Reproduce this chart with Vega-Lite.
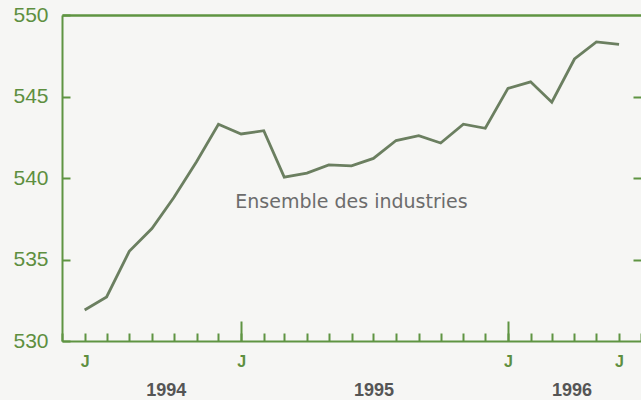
{
  "$schema": "https://vega.github.io/schema/vega-lite/v6.json",
  "width": 579,
  "height": 326,
  "autosize": {"type": "none"},
  "padding": {"left": 62, "top": 15, "right": 0, "bottom": 59},
  "background": "#f6f6f4",
  "config": {
    "view": {"stroke": null},
    "font": "Liberation Sans",
    "axis": {"grid": false, "domainColor": "#5f9442", "tickColor": "#5f9442", "domainWidth": 2, "tickWidth": 2, "labelColor": "#5e8f40", "labelFont": "Liberation Sans"}
  },
  "data": {
    "values": [
      {"date": "1994-06-01", "value": 531.9},
      {"date": "1994-07-01", "value": 532.7},
      {"date": "1994-08-01", "value": 535.5},
      {"date": "1994-09-01", "value": 536.9},
      {"date": "1994-10-01", "value": 538.8},
      {"date": "1994-11-01", "value": 541.0},
      {"date": "1994-12-01", "value": 543.3},
      {"date": "1995-01-01", "value": 542.7},
      {"date": "1995-02-01", "value": 542.9},
      {"date": "1995-03-01", "value": 540.05},
      {"date": "1995-04-01", "value": 540.3},
      {"date": "1995-05-01", "value": 540.8},
      {"date": "1995-06-01", "value": 540.75},
      {"date": "1995-07-01", "value": 541.2},
      {"date": "1995-08-01", "value": 542.3},
      {"date": "1995-09-01", "value": 542.6},
      {"date": "1995-10-01", "value": 542.15},
      {"date": "1995-11-01", "value": 543.3},
      {"date": "1995-12-01", "value": 543.05},
      {"date": "1996-01-01", "value": 545.5},
      {"date": "1996-02-01", "value": 545.9},
      {"date": "1996-03-01", "value": 544.65},
      {"date": "1996-04-01", "value": 547.3},
      {"date": "1996-05-01", "value": 548.35},
      {"date": "1996-06-01", "value": 548.2}
    ]
  },
  "resolve": {
    "scale": {"x": "independent", "y": "independent"},
    "axis": {"x": "independent", "y": "independent"}
  },
  "layer": [
    {
      "mark": {"type": "line", "color": "#6b7f60", "strokeWidth": 2.8},
      "encoding": {
        "x": {
          "field": "date", "type": "temporal",
          "scale": {"type": "utc", "domain": [{"year": 1994, "month": 5, "date": 1, "utc": true}, {"year": 1996, "month": 7, "date": 1, "utc": true}]},
          "axis": {"orient": "bottom", "title": null, "tickCount": {"interval": "month", "step": 1}, "tickSize": -8, "labelPadding": 20, "labelFontSize": 16, "labelFontWeight": "bold", "labelOverlap": false, "labelFlush": false, "labelBound": false,
            "labelExpr": "(utcmonth(datum.value) == 0 || (utcmonth(datum.value) == 5 && utcyear(datum.value) != 1995)) ? 'J' : ''"}
        },
        "y": {
          "field": "value", "type": "quantitative",
          "scale": {"domain": [530, 550], "nice": false, "zero": false},
          "axis": {"orient": "left", "title": null, "values": [530, 535, 540, 545, 550], "tickSize": -8, "labelPadding": 22, "labelFontSize": 21, "labelFlush": false, "labelBound": false, "labelOverlap": false}
        }
      }
    },
    {
      "mark": {"type": "point", "opacity": 0},
      "encoding": {
        "x": {
          "field": "date", "type": "temporal",
          "scale": {"type": "utc", "domain": [{"year": 1994, "month": 5, "date": 1, "utc": true}, {"year": 1996, "month": 7, "date": 1, "utc": true}]},
          "axis": {"orient": "bottom", "title": null, "domain": false, "labels": false, "tickSize": -20, "values": [{"year": 1995, "month": 1, "date": 1, "utc": true}, {"year": 1996, "month": 1, "date": 1, "utc": true}]}
        },
        "y": {
          "field": "value", "type": "quantitative",
          "scale": {"domain": [530, 550], "nice": false, "zero": false},
          "axis": {"orient": "right", "title": null, "domain": false, "labels": false, "tickSize": -8, "values": [535, 540, 545]}
        }
      }
    },
    {
      "mark": {"type": "point", "opacity": 0},
      "encoding": {
        "x": {
          "field": "date", "type": "temporal",
          "scale": {"type": "utc", "domain": [{"year": 1994, "month": 5, "date": 1, "utc": true}, {"year": 1996, "month": 7, "date": 1, "utc": true}]},
          "axis": {"orient": "bottom", "title": null, "domain": false, "ticks": false, "labelPadding": 40, "labelFontSize": 18, "labelFontWeight": "bold", "labelColor": "#555555", "labelOverlap": false, "labelFlush": false, "labelBound": false,
            "values": [{"year": 1994, "month": 9, "date": 20, "utc": true}, {"year": 1995, "month": 7, "date": 1, "utc": true}, {"year": 1996, "month": 3, "date": 28, "utc": true}],
            "labelExpr": "utcFormat(datum.value, '%Y')"}
        },
        "y": {
          "field": "value", "type": "quantitative",
          "scale": {"domain": [530, 550], "nice": false, "zero": false},
          "axis": null
        }
      }
    },
    {
      "mark": {"type": "point", "opacity": 0},
      "encoding": {
        "x": {
          "field": "date", "type": "temporal",
          "scale": {"type": "utc", "domain": [{"year": 1994, "month": 5, "date": 1, "utc": true}, {"year": 1996, "month": 7, "date": 1, "utc": true}]},
          "axis": {"orient": "top", "title": null, "ticks": false, "labels": false, "domainWidth": 2.5}
        },
        "y": {
          "field": "value", "type": "quantitative",
          "scale": {"domain": [530, 550], "nice": false, "zero": false},
          "axis": null
        }
      }
    },
    {
      "data": {"values": [{"date": "1994-12-24", "value": 538.15, "label": "Ensemble des industries"}]},
      "mark": {"type": "text", "align": "left", "baseline": "alphabetic", "fontSize": 19, "font": "DejaVu Sans", "color": "#6c6c6c"},
      "encoding": {
        "x": {
          "field": "date", "type": "temporal",
          "scale": {"type": "utc", "domain": [{"year": 1994, "month": 5, "date": 1, "utc": true}, {"year": 1996, "month": 7, "date": 1, "utc": true}]},
          "axis": null
        },
        "y": {
          "field": "value", "type": "quantitative",
          "scale": {"domain": [530, 550], "nice": false, "zero": false},
          "axis": null
        },
        "text": {"field": "label"}
      }
    }
  ]
}
